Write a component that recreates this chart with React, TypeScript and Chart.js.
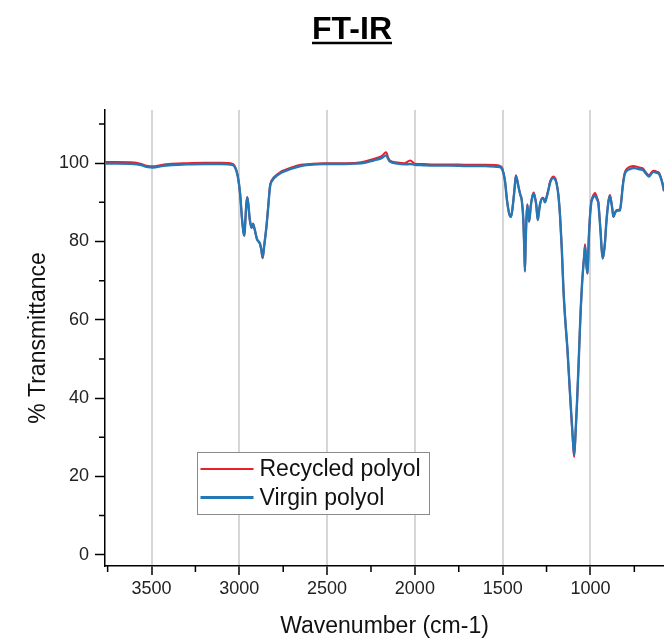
import React, { useEffect, useRef } from "react";
import { Chart, registerables } from "chart.js";

Chart.register(...registerables);

const FONT = '"Liberation Sans", Arial, Helvetica, sans-serif';

const chartTitle = "FT-IR";
const xAxisTitle = "Wavenumber (cm-1)";
const yAxisTitle = "% Transmittance";
const seriesLabels = ["Recycled polyol", "Virgin polyol"];
const seriesColors = ["#e8202a", "#2478b6"];

const xMajorTicks = [3500, 3000, 2500, 2000, 1500, 1000];
const xMinorTicks = [3750, 3250, 2750, 2250, 1750, 1250, 750];
const yMajorTicks = [0, 20, 40, 60, 80, 100];
const yMinorTicks = [10, 30, 50, 70, 90, 110];

const wavenumbers = [
  3765, 3700, 3600, 3560, 3520, 3490, 3450, 3400, 3300, 3200,
  3100, 3040, 3025, 3010, 2995, 2985, 2975, 2971, 2966, 2960,
  2955, 2950, 2940, 2930, 2922, 2912, 2900, 2882, 2875, 2867,
  2858, 2845, 2835, 2825, 2810, 2797, 2768, 2740, 2711, 2650,
  2600, 2523, 2400, 2331, 2280, 2236, 2190, 2164, 2150, 2142,
  2100, 2060, 2027, 2000, 1950, 1900, 1800, 1700, 1600, 1530,
  1515, 1502, 1487, 1475, 1462, 1452, 1440, 1432, 1425, 1418,
  1410, 1400, 1391, 1382, 1376, 1373, 1369, 1365, 1360, 1355,
  1349, 1340, 1332, 1323, 1315, 1309, 1300, 1292, 1287, 1274,
  1266, 1259, 1250, 1240, 1230, 1220, 1211, 1200, 1192, 1183,
  1173, 1163, 1154, 1145, 1131, 1120, 1112, 1100, 1093, 1086,
  1076, 1068, 1061, 1055, 1048, 1040, 1035, 1031, 1027, 1022,
  1016, 1010, 1003, 995, 988, 980, 974, 967, 960, 955,
  948, 942, 936, 930, 924, 917, 910, 903, 896, 889,
  883, 876, 869, 860, 851, 840, 832, 825, 816, 810,
  803, 790, 775, 756, 740, 727, 712, 699, 688, 675,
  666, 655, 642, 630, 620, 610, 600, 590, 581,
];

const virginT = [
  99.9, 99.9, 99.8, 99.5, 99.0, 98.9, 99.2, 99.5, 99.7, 99.8,
  99.8, 99.6, 99.0, 97.0, 92.0, 86.0, 82.0, 81.5, 85.0, 89.5,
  91.2, 90.0, 85.5, 83.5, 84.5, 83.0, 80.7, 79.4, 78.0, 75.9,
  79.0, 84.0, 89.0, 94.0, 95.7, 96.4, 97.4, 98.0, 98.5, 99.3,
  99.6, 99.8, 99.8, 99.9, 100.2, 100.7, 101.3, 102.0, 100.9, 100.4,
  99.9, 99.7, 99.8, 99.6, 99.5, 99.4, 99.4, 99.3, 99.3, 99.1,
  99.0, 98.4, 95.5, 90.4, 87.0, 86.3, 90.0, 93.5, 96.6, 95.8,
  94.0, 92.0, 90.5, 85.3, 77.0, 72.5, 80.0, 85.3, 89.3, 87.5,
  85.1, 89.0, 91.2, 92.2, 91.0, 89.5, 85.5, 88.0, 89.5, 91.0,
  90.8, 90.0, 91.2, 93.0, 95.0, 96.0, 96.2, 95.8, 94.6, 92.0,
  86.5, 78.0, 68.0, 61.0, 52.5, 44.0, 38.0, 29.5, 25.6, 30.0,
  39.4, 48.0, 56.4, 63.0, 69.0, 74.0, 76.5, 78.6, 77.0, 73.5,
  71.8, 80.0, 86.0, 90.0, 91.0, 91.6, 91.7, 91.2, 90.5, 89.8,
  86.0, 82.3, 78.0, 75.8, 77.0, 79.8, 84.5, 88.0, 90.5, 91.6,
  90.5, 88.5, 86.3, 87.3, 87.8, 87.9, 87.9, 90.0, 94.0, 96.0,
  97.4, 98.2, 98.5, 98.8, 98.7, 98.5, 98.4, 98.2, 97.6, 96.9,
  96.6, 97.2, 97.8, 97.7, 97.5, 97.3, 96.3, 94.8, 93.0,
];

const recycledT = [
  100.3, 100.3, 100.2, 99.8, 99.3, 99.2, 99.5, 99.8, 100.0, 100.1,
  100.1, 99.9, 99.2, 97.0, 92.0, 86.0, 82.0, 81.5, 85.0, 89.6,
  91.4, 90.1, 85.5, 83.5, 84.6, 83.0, 80.7, 79.4, 78.0, 75.7,
  79.0, 84.0, 89.2, 94.3, 96.0, 96.7, 97.7, 98.3, 98.8, 99.6,
  99.8, 100.0, 100.0, 100.1, 100.5, 101.1, 101.8, 102.8, 101.2, 100.7,
  100.2, 100.0, 100.7, 99.9, 99.8, 99.7, 99.7, 99.6, 99.6, 99.5,
  99.3, 98.7, 95.7, 90.5, 87.0, 86.3, 90.1, 93.7, 96.9, 96.0,
  94.1, 92.1, 90.6, 85.3, 77.0, 72.3, 80.0, 85.3, 89.5, 87.6,
  85.1, 89.1, 91.4, 92.5, 91.2, 89.6, 85.5, 88.1, 89.6, 91.2,
  91.0, 90.1, 91.4, 93.2, 95.3, 96.3, 96.6, 96.1, 94.8, 92.1,
  86.5, 78.0, 68.0, 61.0, 52.3, 43.8, 37.7, 29.0, 24.9, 29.6,
  39.2, 48.0, 56.4, 63.0, 69.1, 74.2, 76.8, 79.3, 77.2, 73.5,
  71.8, 80.2, 86.3, 90.3, 91.4, 92.1, 92.4, 91.8, 90.9, 90.1,
  86.2, 82.4, 78.0, 75.6, 77.0, 79.9, 84.6, 88.2, 90.8, 91.9,
  90.7, 88.6, 86.3, 87.4, 88.0, 88.1, 88.1, 90.2, 94.3, 96.4,
  97.8, 98.7, 99.1, 99.3, 99.2, 99.0, 98.8, 98.6, 97.9, 97.2,
  96.9, 97.5, 98.1, 98.0, 97.8, 97.6, 96.6, 95.0, 92.8,
];

const toPoints = (ys: number[]) => wavenumbers.map((x, i) => ({ x, y: ys[i] }));

const titlePlugin = {
  id: "underlinedTitle",
  afterDraw(chart: any) {
    const ctx = chart.ctx;
    ctx.save();
    ctx.font = `bold 32px ${FONT}`;
    ctx.fillStyle = "#000";
    ctx.textAlign = "center";
    ctx.textBaseline = "alphabetic";
    const cx = 352;
    const by = 39;
    ctx.fillText(chartTitle, cx, by);
    const w = ctx.measureText(chartTitle).width;
    ctx.strokeStyle = "#000";
    ctx.lineWidth = 2.5;
    ctx.beginPath();
    ctx.moveTo(cx - w / 2, by + 4);
    ctx.lineTo(cx + w / 2, by + 4);
    ctx.stroke();
    ctx.restore();
  },
};

const minorTickPlugin = {
  id: "minorTicks",
  afterDraw(chart: any) {
    const ctx = chart.ctx;
    const xs = chart.scales.x;
    const ys = chart.scales.y;
    const area = chart.chartArea;
    ctx.save();
    ctx.strokeStyle = "#000";
    ctx.lineWidth = 1.5;
    ctx.beginPath();
    xMinorTicks.forEach((v) => {
      const px = xs.getPixelForValue(v);
      if (px < area.left - 1 || px > area.right + 1) return;
      ctx.moveTo(px, area.bottom);
      ctx.lineTo(px, area.bottom + 6);
    });
    yMinorTicks.forEach((v) => {
      const py = ys.getPixelForValue(v);
      if (py < area.top - 1 || py > area.bottom + 1) return;
      ctx.moveTo(area.left, py);
      ctx.lineTo(area.left - 6, py);
    });
    ctx.stroke();
    ctx.restore();
  },
};

const legendPlugin = {
  id: "boxLegend",
  afterDraw(chart: any) {
    const ctx = chart.ctx;
    const area = chart.chartArea;
    const left = area.left + 92.5;
    const top = area.top + 342.5;
    const w = 232;
    const h = 62;
    ctx.save();
    ctx.fillStyle = "#fff";
    ctx.fillRect(left, top, w, h);
    ctx.strokeStyle = "#8a8a8a";
    ctx.lineWidth = 1;
    ctx.strokeRect(left, top, w, h);
    ctx.font = `23px ${FONT}`;
    ctx.textAlign = "left";
    ctx.textBaseline = "middle";
    chart.data.datasets.forEach((ds: any, i: number) => {
      const y = top + 16.5 + i * 28.5;
      ctx.strokeStyle = ds.borderColor;
      ctx.lineWidth = i === 0 ? 2 : 3;
      ctx.beginPath();
      ctx.moveTo(left + 3, y);
      ctx.lineTo(left + 56, y);
      ctx.stroke();
      ctx.fillStyle = "#111";
      ctx.fillText(ds.label, left + 62, y + 1);
    });
    ctx.restore();
  },
};

export default function App() {
  const canvasRef = useRef<HTMLCanvasElement | null>(null);

  useEffect(() => {
    if (!canvasRef.current) return;
    const chart = new Chart(canvasRef.current, {
      type: "line",
      data: {
        datasets: [
          {
            label: seriesLabels[0],
            data: toPoints(recycledT),
            borderColor: seriesColors[0],
            borderWidth: 2,
            pointRadius: 0,
            fill: false,
            cubicInterpolationMode: "monotone",
            order: 1,
          },
          {
            label: seriesLabels[1],
            data: toPoints(virginT),
            borderColor: seriesColors[1],
            borderWidth: 2.4,
            pointRadius: 0,
            fill: false,
            cubicInterpolationMode: "monotone",
            order: 0,
          },
        ],
      },
      options: {
        animation: false,
        responsive: false,
        layout: { padding: { top: 110, left: 0, right: 0, bottom: 0 } },
        plugins: {
          legend: { display: false },
          title: { display: false },
          tooltip: { enabled: false },
        },
        scales: {
          x: {
            type: "linear",
            reverse: true,
            min: 581,
            max: 3765,
            afterBuildTicks: (scale: any) => {
              scale.ticks = xMajorTicks.map((v) => ({ value: v }));
            },
            afterFit: (scale: any) => {
              scale.height = 73;
            },
            grid: {
              display: true,
              drawOnChartArea: true,
              color: "#d6d6d6",
              lineWidth: 2,
              drawTicks: true,
              tickLength: 9,
              tickColor: "#000",
              tickWidth: 1.5,
            },
            border: { display: true, color: "#000", width: 1.5 },
            ticks: {
              color: "#222",
              font: { family: FONT, size: 18 },
              padding: 3,
              maxRotation: 0,
              autoSkip: false,
              callback: (v: any) => String(v),
            },
            title: {
              display: true,
              text: xAxisTitle,
              color: "#111",
              font: { family: FONT, size: 23, lineHeight: 1 },
              padding: { top: 0, bottom: 0.5 },
            },
          },
          y: {
            type: "linear",
            min: -2.9,
            max: 113.6,
            afterBuildTicks: (scale: any) => {
              scale.ticks = yMajorTicks.map((v) => ({ value: v }));
            },
            afterFit: (scale: any) => {
              scale.width = 105;
            },
            grid: {
              display: true,
              drawOnChartArea: false,
              drawTicks: true,
              tickLength: 10,
              tickColor: "#000",
              tickWidth: 1.5,
            },
            border: { display: true, color: "#000", width: 1.5 },
            ticks: {
              color: "#222",
              font: { family: FONT, size: 18 },
              padding: 6,
              autoSkip: false,
              callback: (v: any) => String(v),
            },
            title: {
              display: true,
              text: yAxisTitle,
              color: "#111",
              font: { family: FONT, size: 23, lineHeight: 1 },
              padding: { top: 27.5, bottom: 0 },
            },
          },
        },
      },
      plugins: [titlePlugin, minorTickPlugin, legendPlugin],
    } as any);
    return () => chart.destroy();
  }, []);

  return (
    <div style={{ position: "absolute", left: 0, top: 0, width: 664, height: 639, background: "#fff", overflow: "hidden" }}>
      <canvas ref={canvasRef} width={664} height={639} style={{ display: "block" }} />
    </div>
  );
}
